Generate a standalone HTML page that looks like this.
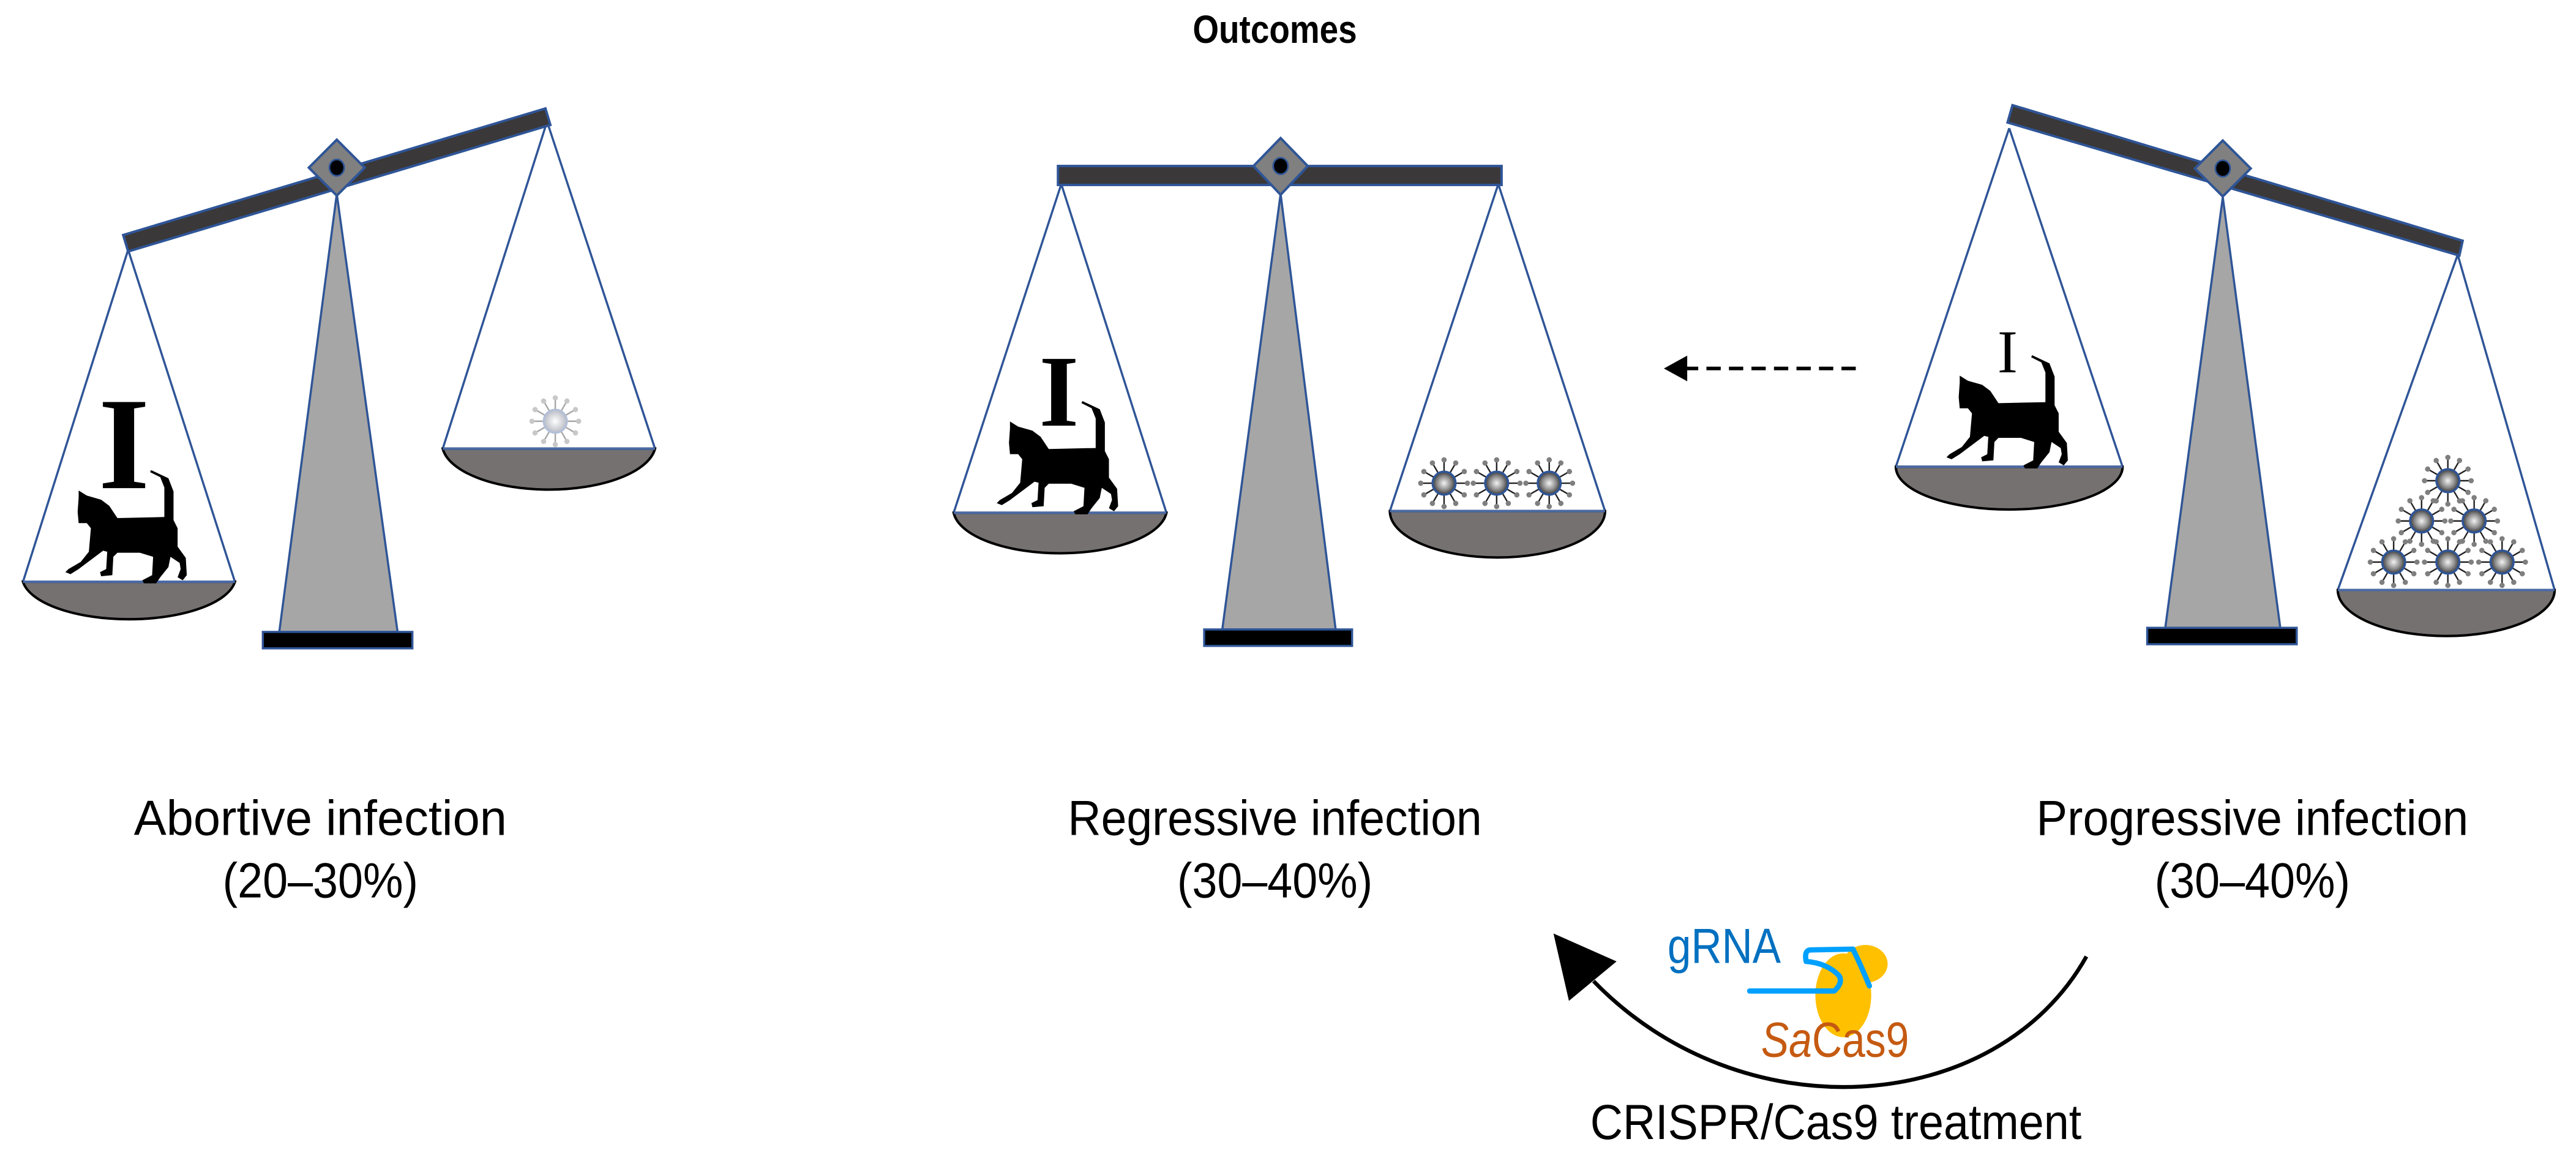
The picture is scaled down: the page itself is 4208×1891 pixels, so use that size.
<!DOCTYPE html>
<html><head><meta charset="utf-8"><style>
html,body{margin:0;padding:0;background:#fff;}
svg{display:block;}
text{font-family:"Liberation Sans",sans-serif;}
</style></head><body>
<svg width="4208" height="1891" viewBox="0 0 1568 704.6" xmlns="http://www.w3.org/2000/svg">
<defs>
<radialGradient id="vg" cx="0.5" cy="0.5" r="0.5">
<stop offset="0" stop-color="#f2f2f2"/><stop offset="0.6" stop-color="#8c8c8c"/><stop offset="1" stop-color="#3a3a3a"/>
</radialGradient>
<radialGradient id="vgl" cx="0.5" cy="0.5" r="0.5">
<stop offset="0" stop-color="#ffffff"/><stop offset="1" stop-color="#b8bcc4"/>
</radialGradient>
<g id="spk">
<line x1="0" y1="-7.5" x2="0" y2="-14" stroke="#222" stroke-width="0.9"/>
<circle cx="0" cy="-14.2" r="1.6" fill="#7f7f7f"/>
</g>
<g id="virus">
<use href="#spk"/><use href="#spk" transform="rotate(30)"/><use href="#spk" transform="rotate(60)"/><use href="#spk" transform="rotate(90)"/>
<use href="#spk" transform="rotate(120)"/><use href="#spk" transform="rotate(150)"/><use href="#spk" transform="rotate(180)"/><use href="#spk" transform="rotate(210)"/>
<use href="#spk" transform="rotate(240)"/><use href="#spk" transform="rotate(270)"/><use href="#spk" transform="rotate(300)"/><use href="#spk" transform="rotate(330)"/>
<circle r="7" fill="url(#vg)" stroke="#2f5597" stroke-width="1.3"/>
</g>
<g id="spkl">
<line x1="0" y1="-7.5" x2="0" y2="-14" stroke="#a6a6a6" stroke-width="0.9"/>
<circle cx="0" cy="-14.2" r="1.6" fill="#c8c8c8"/>
</g>
<g id="virusl">
<use href="#spkl"/><use href="#spkl" transform="rotate(30)"/><use href="#spkl" transform="rotate(60)"/><use href="#spkl" transform="rotate(90)"/>
<use href="#spkl" transform="rotate(120)"/><use href="#spkl" transform="rotate(150)"/><use href="#spkl" transform="rotate(180)"/><use href="#spkl" transform="rotate(210)"/>
<use href="#spkl" transform="rotate(240)"/><use href="#spkl" transform="rotate(270)"/><use href="#spkl" transform="rotate(300)"/><use href="#spkl" transform="rotate(330)"/>
<circle r="7" fill="url(#vgl)" stroke="#b4c0d8" stroke-width="1.3"/>
</g>
<path id="cat" fill="#000" d="M65,105 L105,130 L175,150 L215,180 L255,240 L485,235 L485,90 L465,40 L415,15 L420,5 L505,45 L530,110 L530,250 L550,290 L550,380 L590,435 L595,520 L575,545 L550,530 L565,490 L560,460 L515,430 L505,480 L465,530 L445,560 L385,560 L377,545 L425,520 L430,430 L365,410 L255,410 L235,430 L230,520 L175,525 L170,505 L200,490 L205,405 L185,400 L65,490 L25,515 L0,505 L15,490 L75,455 L115,405 L125,290 L105,265 L65,265 L60,210 L65,140 Z"/>
</defs>

<!-- Title -->
<text x="776" y="26" font-size="24" font-weight="bold" text-anchor="middle" textLength="100" lengthAdjust="spacingAndGlyphs">Outcomes</text>

<!-- ========== LEFT SCALE ========== -->
<g stroke="#2f5597" stroke-width="1.3" fill="none">
<line x1="78" y1="152" x2="14" y2="354"/><line x1="78" y1="152" x2="143" y2="354"/>
<line x1="333" y1="74" x2="269.5" y2="273"/><line x1="333" y1="74" x2="398.7" y2="273"/>
</g>
<polygon points="205,118 170,384.5 242,384.5" fill="#a6a6a6" stroke="#2f5597" stroke-width="1.3"/>
<rect x="160" y="384.5" width="91" height="10" fill="#000" stroke="#2f5597" stroke-width="1.3"/>
<polygon points="75,143 332,66 335,76 78,153" fill="#3a3838" stroke="#2f5597" stroke-width="1.5"/>
<polygon points="205,85 222,102 205,119 188,102" fill="#808080" stroke="#2f5597" stroke-width="1.5"/>
<ellipse cx="205" cy="102" rx="4.5" ry="5" fill="#000" stroke="#2f5597" stroke-width="1"/>
<path d="M14,354 A65,26 0 0 0 143,354 Z" fill="#767171" stroke="#000" stroke-width="1.5"/>
<line x1="14" y1="354" x2="143" y2="354" stroke="#4a6aa5" stroke-width="1.5"/>
<text x="75.5" y="297" font-size="80" font-weight="bold" text-anchor="middle" style="font-family:'Liberation Serif',serif">I</text>
<use href="#cat" transform="translate(39.8,285.4) scale(0.1242)"/>
<path d="M269.5,273 A65,28 0 0 0 398.7,273 Z" fill="#767171" stroke="#000" stroke-width="1.5"/>
<line x1="269.5" y1="273" x2="398.7" y2="273" stroke="#4a6aa5" stroke-width="1.5"/>
<use href="#virusl" transform="translate(338,256.3)"/>

<!-- ========== MIDDLE SCALE ========== -->
<g stroke="#2f5597" stroke-width="1.3" fill="none">
<line x1="646" y1="112" x2="580.5" y2="312"/><line x1="646" y1="112" x2="710" y2="312"/>
<line x1="912" y1="112" x2="846" y2="311"/><line x1="912" y1="112" x2="977" y2="311"/>
</g>
<polygon points="779.5,118 744,383 813,383" fill="#a6a6a6" stroke="#2f5597" stroke-width="1.3"/>
<rect x="733" y="383" width="90" height="10" fill="#000" stroke="#2f5597" stroke-width="1.3"/>
<rect x="644" y="101" width="270" height="11.5" fill="#3a3838" stroke="#2f5597" stroke-width="1.5"/>
<polygon points="779.5,84 796,101 779.5,118.5 763,101" fill="#808080" stroke="#2f5597" stroke-width="1.5"/>
<ellipse cx="779.5" cy="101" rx="4.5" ry="5" fill="#000" stroke="#2f5597" stroke-width="1"/>
<path d="M580.5,312 A65,27 0 0 0 710,312 Z" fill="#767171" stroke="#000" stroke-width="1.5"/>
<line x1="580.5" y1="312" x2="710" y2="312" stroke="#4a6aa5" stroke-width="1.5"/>
<text x="644.6" y="259" font-size="62" font-weight="bold" text-anchor="middle" style="font-family:'Liberation Serif',serif">I</text>
<use href="#cat" transform="translate(606.7,243.4) scale(0.1242)"/>
<path d="M846,311 A65,28 0 0 0 977,311 Z" fill="#767171" stroke="#000" stroke-width="1.5"/>
<line x1="846" y1="311" x2="977" y2="311" stroke="#4a6aa5" stroke-width="1.5"/>
<use href="#virus" transform="translate(879,294)"/>
<use href="#virus" transform="translate(911,294)"/>
<use href="#virus" transform="translate(943,294)"/>

<!-- dashed arrow -->
<line x1="1129.6" y1="224.2" x2="1026" y2="224.2" stroke="#000" stroke-width="2.2" stroke-dasharray="8.7 5"/>
<polygon points="1012.8,224.2 1027,216.4 1027,232" fill="#000"/>

<!-- ========== RIGHT SCALE ========== -->
<g stroke="#2f5597" stroke-width="1.3" fill="none">
<line x1="1223" y1="78" x2="1154" y2="284"/><line x1="1223" y1="78" x2="1292" y2="284"/>
<line x1="1496" y1="155" x2="1423" y2="359"/><line x1="1496" y1="155" x2="1555" y2="359"/>
</g>
<polygon points="1353,120 1318,382 1388,382" fill="#a6a6a6" stroke="#2f5597" stroke-width="1.3"/>
<rect x="1307" y="382" width="91" height="10" fill="#000" stroke="#2f5597" stroke-width="1.3"/>
<polygon points="1225,64 1499,146.5 1497,155.5 1222,74.5" fill="#3a3838" stroke="#2f5597" stroke-width="1.5"/>
<polygon points="1353,85.5 1370,102.5 1353,119.5 1336,102.5" fill="#808080" stroke="#2f5597" stroke-width="1.5"/>
<ellipse cx="1353" cy="102.5" rx="4.5" ry="5" fill="#000" stroke="#2f5597" stroke-width="1"/>
<path d="M1154,284 A69,26 0 0 0 1292,284 Z" fill="#767171" stroke="#000" stroke-width="1.5"/>
<line x1="1154" y1="284" x2="1292" y2="284" stroke="#4a6aa5" stroke-width="1.5"/>
<text x="1222" y="226.5" font-size="37" text-anchor="middle" style="font-family:'Liberation Serif',serif">I</text>
<use href="#cat" transform="translate(1184.8,215.5) scale(0.1242)"/>
<path d="M1423,359 A66,28 0 0 0 1555,359 Z" fill="#767171" stroke="#000" stroke-width="1.5"/>
<line x1="1423" y1="359" x2="1555" y2="359" stroke="#4a6aa5" stroke-width="1.5"/>
<use href="#virus" transform="translate(1490,292.5)"/>
<use href="#virus" transform="translate(1474,317)"/>
<use href="#virus" transform="translate(1506,317)"/>
<use href="#virus" transform="translate(1457,342)"/>
<use href="#virus" transform="translate(1490,342)"/>
<use href="#virus" transform="translate(1523,342)"/>

<!-- Labels -->
<g font-size="30" text-anchor="middle" fill="#000">
<text x="195" y="508" textLength="227" lengthAdjust="spacingAndGlyphs">Abortive infection</text>
<text x="195" y="546" textLength="119" lengthAdjust="spacingAndGlyphs">(20–30%)</text>
<text x="776" y="508" textLength="252" lengthAdjust="spacingAndGlyphs">Regressive infection</text>
<text x="776" y="546" textLength="119" lengthAdjust="spacingAndGlyphs">(30–40%)</text>
<text x="1371" y="508" textLength="263" lengthAdjust="spacingAndGlyphs">Progressive infection</text>
<text x="1371" y="546" textLength="119" lengthAdjust="spacingAndGlyphs">(30–40%)</text>
</g>

<!-- CRISPR curved arrow -->
<path d="M1270,582 C1215,680 1060,690 970,597" fill="none" stroke="#000" stroke-width="2.4"/>
<polygon points="945.6,568 984,585 955,609" fill="#000"/>
<ellipse cx="1122" cy="605.6" rx="17" ry="25.5" fill="#ffc000"/>
<ellipse cx="1135.5" cy="586.5" rx="13.5" ry="11.5" fill="#ffc000"/>
<path d="M1065,603 L1116.5,603 Q1122,598 1119.4,593.6 Q1112,586 1099.4,585 Q1098,578 1102.3,578 L1127.9,577.5 Q1133,588 1137.9,599.9" fill="none" stroke="#00a0ff" stroke-width="3.2" stroke-linecap="round" stroke-linejoin="round"/>
<text x="1015" y="586" font-size="30" fill="#0070c0" textLength="69" lengthAdjust="spacingAndGlyphs">gRNA</text>
<text x="1072" y="643" font-size="30" fill="#c55a11" textLength="90" lengthAdjust="spacingAndGlyphs"><tspan font-style="italic">Sa</tspan>Cas9</text>
<text x="1117.5" y="693" font-size="30" text-anchor="middle" textLength="299" lengthAdjust="spacingAndGlyphs">CRISPR/Cas9 treatment</text>
</svg>
</body></html>
